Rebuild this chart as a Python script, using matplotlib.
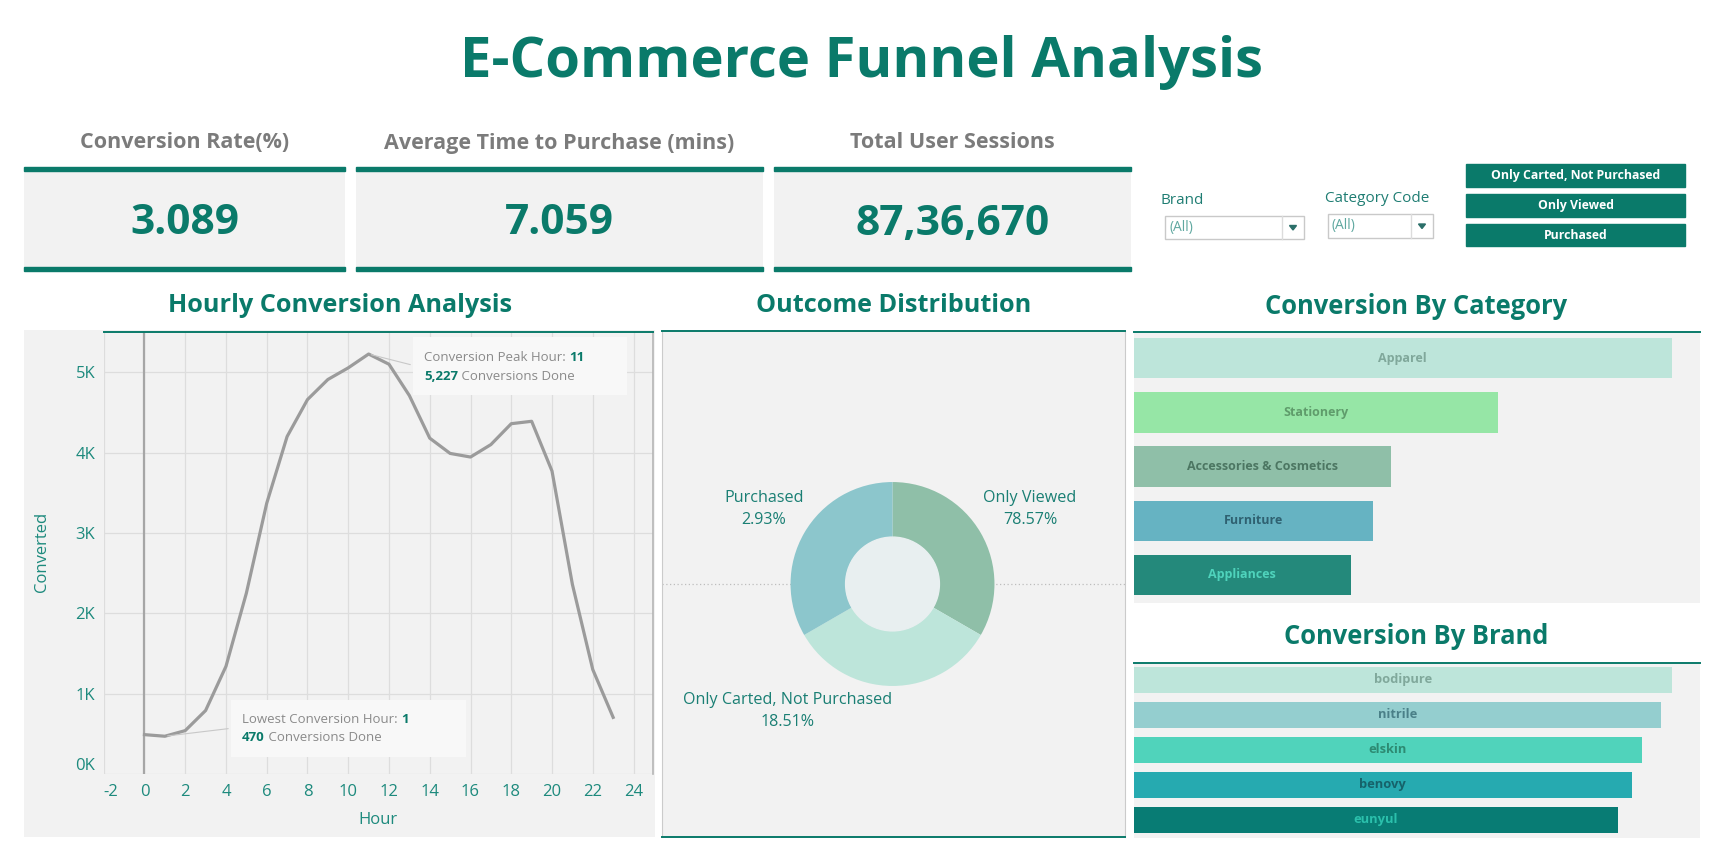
import matplotlib
matplotlib.use("Agg")
import matplotlib.pyplot as plt
from matplotlib.patches import Rectangle, Circle, Polygon

# ---- data ----
hours = list(range(24))
converted = [490, 470, 540, 790, 1340, 2250, 3370, 4200, 4660, 4910, 5055, 5227,
             5100, 4710, 4180, 3990, 3945, 4100, 4360, 4390, 3770, 2360, 1300, 705]

outcome_labels = ['Only Viewed', 'Only Carted, Not Purchased', 'Purchased']
outcome_pct = [78.57, 18.51, 2.93]
outcome_slices = [1, 1, 1]   # the reference draws the three slices as equal thirds

categories = ['Apparel', 'Stationery', 'Accessories & Cosmetics', 'Furniture', 'Appliances']
category_conv = [1386, 938, 663, 617, 560]
brands = ['bodipure', 'nitrile', 'elskin', 'benovy', 'eunyul']
brand_conv = [1386, 1358, 1309, 1283, 1247]

kpi_titles = ['Conversion Rate(%)', 'Average Time to Purchase (mins)', 'Total User Sessions']
kpi_values = ['3.089', '7.059', '87,36,670']
legend_items = ['Only Carted, Not Purchased', 'Only Viewed', 'Purchased']

# ---- styling ----
TEAL = '#0a7a6a'
TICK = '#1d8a7d'
GREY_BG = '#f2f2f2'
plt.rcParams['font.family'] = ['Open Sans', 'DejaVu Sans']
plt.rcParams['axes.unicode_minus'] = False

W, H = 1734, 868
fig = plt.figure(figsize=(W / 100, H / 100), dpi=100)
fig.patch.set_facecolor('white')


def px_axes(x0, y0, x1, y1, **kw):
    return fig.add_axes([x0 / W, 1 - y1 / H, (x1 - x0) / W, (y1 - y0) / H], **kw)


def ftext(x, y, s, **kw):
    return fig.text(x / W, 1 - y / H, s, **kw)


def frect(x0, y0, x1, y1, **kw):
    fig.add_artist(Rectangle((x0 / W, 1 - y1 / H), (x1 - x0) / W, (y1 - y0) / H,
                             transform=fig.transFigure, **kw))


def plain(ax, fc=GREY_BG):
    ax.set_facecolor(fc)
    ax.set_xticks([])
    ax.set_yticks([])
    for sp in ax.spines.values():
        sp.set_visible(False)


# title
ftext(862, 63, 'E-Commerce Funnel Analysis', ha='center', va='center',
      fontsize=40.5, fontweight='bold', color=TEAL)

# KPI cards
kpi_x = [(24, 345), (356, 763), (774, 1131)]
for (x0, x1), t, v in zip(kpi_x, kpi_titles, kpi_values):
    ax = px_axes(x0, 167, x1, 271)
    plain(ax)
    frect(x0, 166.5, x1, 171, color=TEAL)
    frect(x0, 266.5, x1, 271, color=TEAL)
    ftext((x0 + x1) / 2, 143, t, ha='center', va='center', fontsize=15.5,
          fontweight='bold', color='#7b7b7b')
    ftext((x0 + x1) / 2, 224, v, ha='center', va='center', fontsize=30.5,
          fontweight='bold', color=TEAL)

# filters
for label, lx, ly, bx0, bx1, by0, by1, div in [
        ('Brand', 1161, 200, 1165, 1304, 216, 239, 1282),
        ('Category Code', 1325, 199, 1328, 1433, 214, 238, 1411)]:
    ftext(lx, ly, label, ha='left', va='center', fontsize=11, color='#1f7d73')
    frect(bx0, by0, bx1, by1, facecolor='white', edgecolor='#c9c9c9', lw=1)
    fig.add_artist(plt.Line2D([div / W, div / W], [1 - by0 / H, 1 - by1 / H],
                              transform=fig.transFigure, color='#dcdcdc', lw=1))
    ftext(bx0 + 4, (by0 + by1) / 2, '(All)', ha='left', va='center', fontsize=10,
          color='#5fa8a0')
    ax_c = (div + bx1) / 2
    ay = (by0 + by1) / 2
    fig.add_artist(Polygon([((ax_c - 3.5) / W, 1 - (ay - 2) / H), ((ax_c + 3.5) / W, 1 - (ay - 2) / H),
                            (ax_c / W, 1 - (ay + 2.5) / H)], closed=True,
                           transform=fig.transFigure, color='#2b6f69'))

# colour legend buttons
for i, item in enumerate(legend_items):
    y0 = 164 + i * 30
    frect(1466, y0, 1685, y0 + 22.5, color=TEAL)
    ftext(1575.5, y0 + 11.5, item, ha='center', va='center', fontsize=8.8,
          fontweight='bold', color='white')

# ---- hourly conversion line ----
ftext(340, 306, 'Hourly Conversion Analysis', ha='center', va='center',
      fontsize=18.2, fontweight='bold', color=TEAL)
pan = px_axes(24, 330, 655, 837)
plain(pan)
ax = px_axes(103.7, 331.7, 653.5, 774)
ax.set_facecolor(GREY_BG)
ax.plot(hours, converted, color='#9b9b9b', lw=2.3, solid_joinstyle='round', zorder=3)
ax.set_xlim(-1.96, 24.98)
ax.set_ylim(0, 5505)
ax.set_xticks(range(-2, 25, 2))
ax.set_yticks(range(0, 5001, 1000))
ax.set_yticklabels([f'{v // 1000}K' for v in range(0, 5001, 1000)])
ax.grid(True, color='#dddddd', lw=0.9)
ax.set_axisbelow(True)
ax.axvline(0, color='#a6a6a6', lw=1.6, zorder=2)
for side in ['left', 'bottom']:
    ax.spines[side].set_visible(False)
ax.spines['top'].set_color(TEAL)
ax.spines['top'].set_linewidth(1.4)
ax.spines['right'].set_color('#b5b5b5')
ax.spines['right'].set_linewidth(1.2)
ax.tick_params(length=0, labelcolor=TICK, labelsize=12)
ax.tick_params(axis='y', pad=6)
ax.tick_params(axis='x', pad=7)
# edge labels are pulled inside the plot, like the reference
ax.get_xticklabels()[0].set_horizontalalignment('left')
ax.get_yticklabels()[0].set_verticalalignment('bottom')
ftext(42, 552, 'Converted', rotation=90, ha='center', va='center', fontsize=12, color=TICK)
ftext(378, 820, 'Hour', ha='center', va='center', fontsize=12, color=TICK)

peak = converted.index(max(converted))
low = converted.index(min(converted))
ANN_GREY = '#8a8a8a'
ANN_FS = 9.5
for idx, (bx0, by0, bx1, by1), (tx, ty1, ty2), conn, title in [
        (peak, (0.5626, 0.8569, 0.9517, 0.9877), (0.5826, 0.9423, 0.8993), (0.5626, 0.924),
         'Conversion Peak Hour: '),
        (low, (0.2315, 0.0384, 0.659, 0.1673), (0.2515, 0.1221, 0.0814), (0.2315, 0.1033),
         'Lowest Conversion Hour: ')]:
    ax.add_patch(Rectangle((bx0, by0), bx1 - bx0, by1 - by0, transform=ax.transAxes,
                           facecolor='#f8f8f8', edgecolor='none', zorder=4))
    ax.annotate('', xy=(hours[idx], converted[idx]), xycoords='data',
                xytext=conn, textcoords='axes fraction',
                arrowprops=dict(arrowstyle='-', color='#c8c8c8', lw=0.8), zorder=4)
    t1 = ax.text(tx, ty1, title, transform=ax.transAxes, ha='left', va='center',
                 fontsize=ANN_FS, color=ANN_GREY, zorder=5)
    ax.annotate(str(hours[idx]), xy=(1, 0.5), xycoords=t1, ha='left', va='center',
                fontsize=ANN_FS, color=TEAL, fontweight='bold', zorder=5)
    t2 = ax.text(tx, ty2, f'{converted[idx]:,}', transform=ax.transAxes, ha='left',
                 va='center', fontsize=ANN_FS, color=TEAL, fontweight='bold', zorder=5)
    ax.annotate(' Conversions Done', xy=(1, 0.5), xycoords=t2, ha='left', va='center',
                fontsize=ANN_FS, color=ANN_GREY, zorder=5)

# ---- outcome donut ----
ftext(893.5, 306, 'Outcome Distribution', ha='center', va='center',
      fontsize=18.2, fontweight='bold', color=TEAL)
pan = px_axes(662.4, 331, 1124.7, 837)
plain(pan)
pan.set_xlim(0, 1)
pan.set_ylim(0, 1)
pan.spines['top'].set_visible(True)
pan.spines['top'].set_color(TEAL)
pan.spines['top'].set_linewidth(1.4)
pan.spines['bottom'].set_visible(True)
pan.spines['bottom'].set_color(TEAL)
pan.spines['bottom'].set_linewidth(1.4)
for side in ['left', 'right']:
    pan.spines[side].set_visible(True)
    pan.spines[side].set_color('#cbcbcb')
pan.axhline(0.5, color='#bdbdbd', lw=0.9, ls=(0, (1, 2)))

dax = px_axes(762.5, 454, 1022.5, 714)
dax.set_facecolor('none')
slice_colors = ['#8fbfa8', '#bde5da', '#8cc6cc']
dax.pie(outcome_slices, colors=slice_colors, startangle=90, counterclock=False,
        radius=1, wedgeprops=dict(width=0.54, edgecolor='none'))
dax.add_patch(Circle((0, 0), 0.46, color='#e8eff0'))
dax.set_xlim(-1.275, 1.275)
dax.set_ylim(-1.275, 1.275)
dax.axis('off')

label_pos = [(1030, 509), (788, 711), (764, 509)]
for (x, y), name, pct in zip(label_pos, outcome_labels, outcome_pct):
    ftext(x, y, f'{name}\n{pct:.2f}%', ha='center', va='center', fontsize=11.6,
          color='#1a7f74', linespacing=1.55)

# ---- bars ----
def bar_panel(y0, y1, title, title_y, names, vals, colors, label_colors, top_pad, bot_pad,
              height, fs):
    ftext(1416.5, title_y, title, ha='center', va='center', fontsize=18.4,
          fontweight='bold', color=TEAL)
    ax = px_axes(1133.5, y0, 1700, y1)
    plain(ax)
    ax.spines['top'].set_visible(True)
    ax.spines['top'].set_color(TEAL)
    ax.spines['top'].set_linewidth(1.4)
    pos = list(range(len(names)))
    ax.barh(pos, vals, height=height, color=colors)
    ax.set_xlim(0, max(vals) * 1458 / 1386)
    ax.set_ylim(len(names) - 1 + bot_pad, -top_pad)
    for p, n, v, c in zip(pos, names, vals, label_colors):
        ax.text(v / 2, p, n, ha='center', va='center', fontsize=fs, color=c,
                fontweight='bold')


bar_panel(331.7, 603, 'Conversion By Category', 306, categories, category_conv,
          ['#bde5da', '#96e6a6', '#8fbfa8', '#66b3c2', '#24897b'],
          ['#80a89b', '#5f9c6b', '#4c7662', '#2f6171', '#4fd3bc'],
          0.49, 0.517, 0.747, 9.0)
bar_panel(663.3, 837.7, 'Conversion By Brand', 637, brands, brand_conv,
          ['#bde5da', '#94cecf', '#50d3bb', '#26aab0', '#087c74'],
          ['#80a89b', '#4a8088', '#2d8a72', '#16626a', '#2bc0ac'],
          0.471, 0.511, 0.734, 9.3)

fig.savefig('out.png', dpi=100, facecolor='white')
